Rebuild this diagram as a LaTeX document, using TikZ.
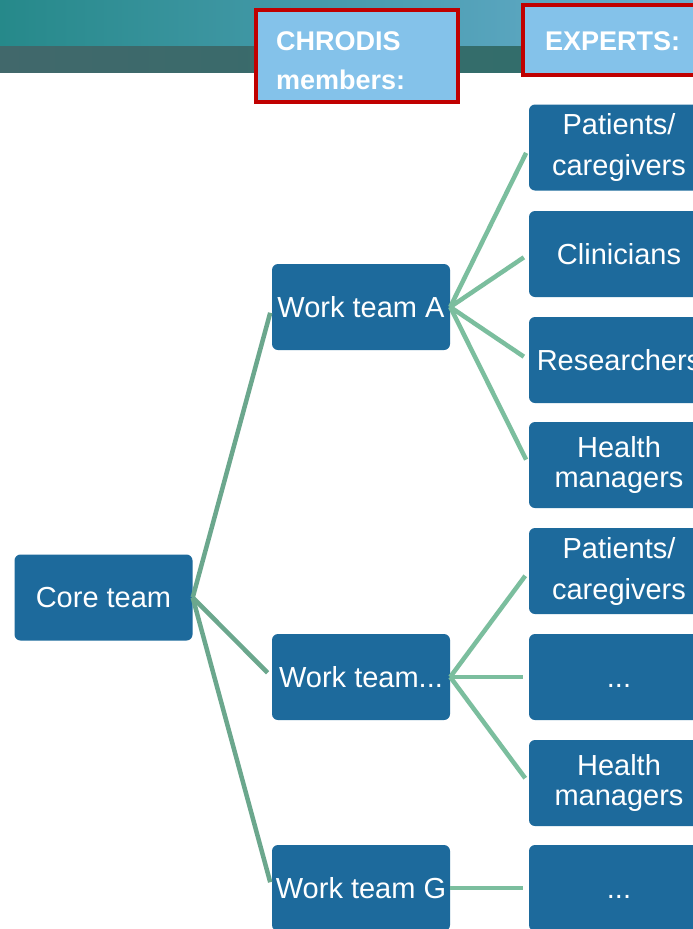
\documentclass[tikz,border=0pt]{standalone}
\usepackage{fontspec}
\setmainfont{Liberation Sans}

\definecolor{boxblue}{HTML}{1D6A9C}
\definecolor{hdrblue}{HTML}{84C2EA}
\definecolor{hdrred}{HTML}{C00000}
\definecolor{linkdark}{HTML}{6BA78D}
\definecolor{linklight}{HTML}{7BBE9E}
\definecolor{bandtopL}{HTML}{26898A}
\definecolor{bandtopR}{HTML}{6AAED0}
\definecolor{bandlowL}{HTML}{41686B}
\definecolor{bandlowR}{HTML}{2E6F6B}

\tikzset{
    team/.style={fill=boxblue, text=white, rounded corners=6pt,
        minimum width=178pt, minimum height=86pt, inner sep=0pt,
        align=center, font=\fontsize{29}{34}\selectfont},
    expert/.style={team, minimum width=180pt},
    twoline/.style={font=\fontsize{29}{41}\selectfont},
    tightline/.style={font=\fontsize{29}{30}\selectfont},
    dots/.style={text height=21pt, text depth=0pt},
    hdrtext/.style={text=white, inner sep=0pt, anchor=base west,
        font=\fontsize{27}{32}\selectfont\bfseries},
    corelink/.style={draw=linkdark, line width=4.5pt, shorten >=6pt},
    explink/.style={draw=linklight, line width=4.5pt, shorten >=6pt},
}

\begin{document}
\begin{tikzpicture}[x=1pt,y=-1pt]
    \clip (0,0) rectangle (693,929);
    \fill[white] (0,0) rectangle (693,929);

    % banner
    \shade[left color=bandtopL, right color=bandtopR] (0,0) rectangle (693,46);
    \shade[left color=bandlowL, right color=bandlowR] (0,46) rectangle (693,72);

    % column headers
    \draw[hdrred, line width=4pt, fill=hdrblue] (256,10) rectangle (458,102);
    \draw[hdrred, line width=4pt, fill=hdrblue] (523,5) rectangle (720,75);
    \node[hdrtext] (chrodis) at (276,50) {CHRODIS};
    \node[hdrtext] (members) at (276,89) {members:};
    \node[hdrtext] (experts) at (545,50) {EXPERTS:};

    % teams
    \node[team] (core) at (103.5,597.5) {Core team};
    \node[team] (wtA) at (361,307) {Work team A};
    \node[team] (wtX) at (361,677) {Work team...};
    \node[team] (wtG) at (361,888) {Work team G};

    % experts
    \node[expert, twoline] (e1) at (619,147.5) {Patients/\\caregivers};
    \node[expert] (e2) at (619,254) {Clinicians};
    \node[expert] (e3) at (619,360) {Researchers};
    \node[expert, tightline] (e4) at (619,465) {Health\\managers};
    \node[expert, twoline] (e5) at (619,571) {Patients/\\caregivers};
    \node[expert, dots] (e6) at (619,677) {...};
    \node[expert, tightline] (e7) at (619,783) {Health\\managers};
    \node[expert, dots] (e8) at (619,888) {...};

    % links
    \foreach \wt in {wtA,wtX,wtG}
        \draw[corelink] (core.east) -- (\wt.west);
    \foreach \ex in {e1,e2,e3,e4}
        \draw[explink] (wtA.east) -- (\ex.west);
    \foreach \ex in {e5,e6,e7}
        \draw[explink] (wtX.east) -- (\ex.west);
    \draw[explink] (wtG.east) -- (e8.west);
\end{tikzpicture}
\end{document}
